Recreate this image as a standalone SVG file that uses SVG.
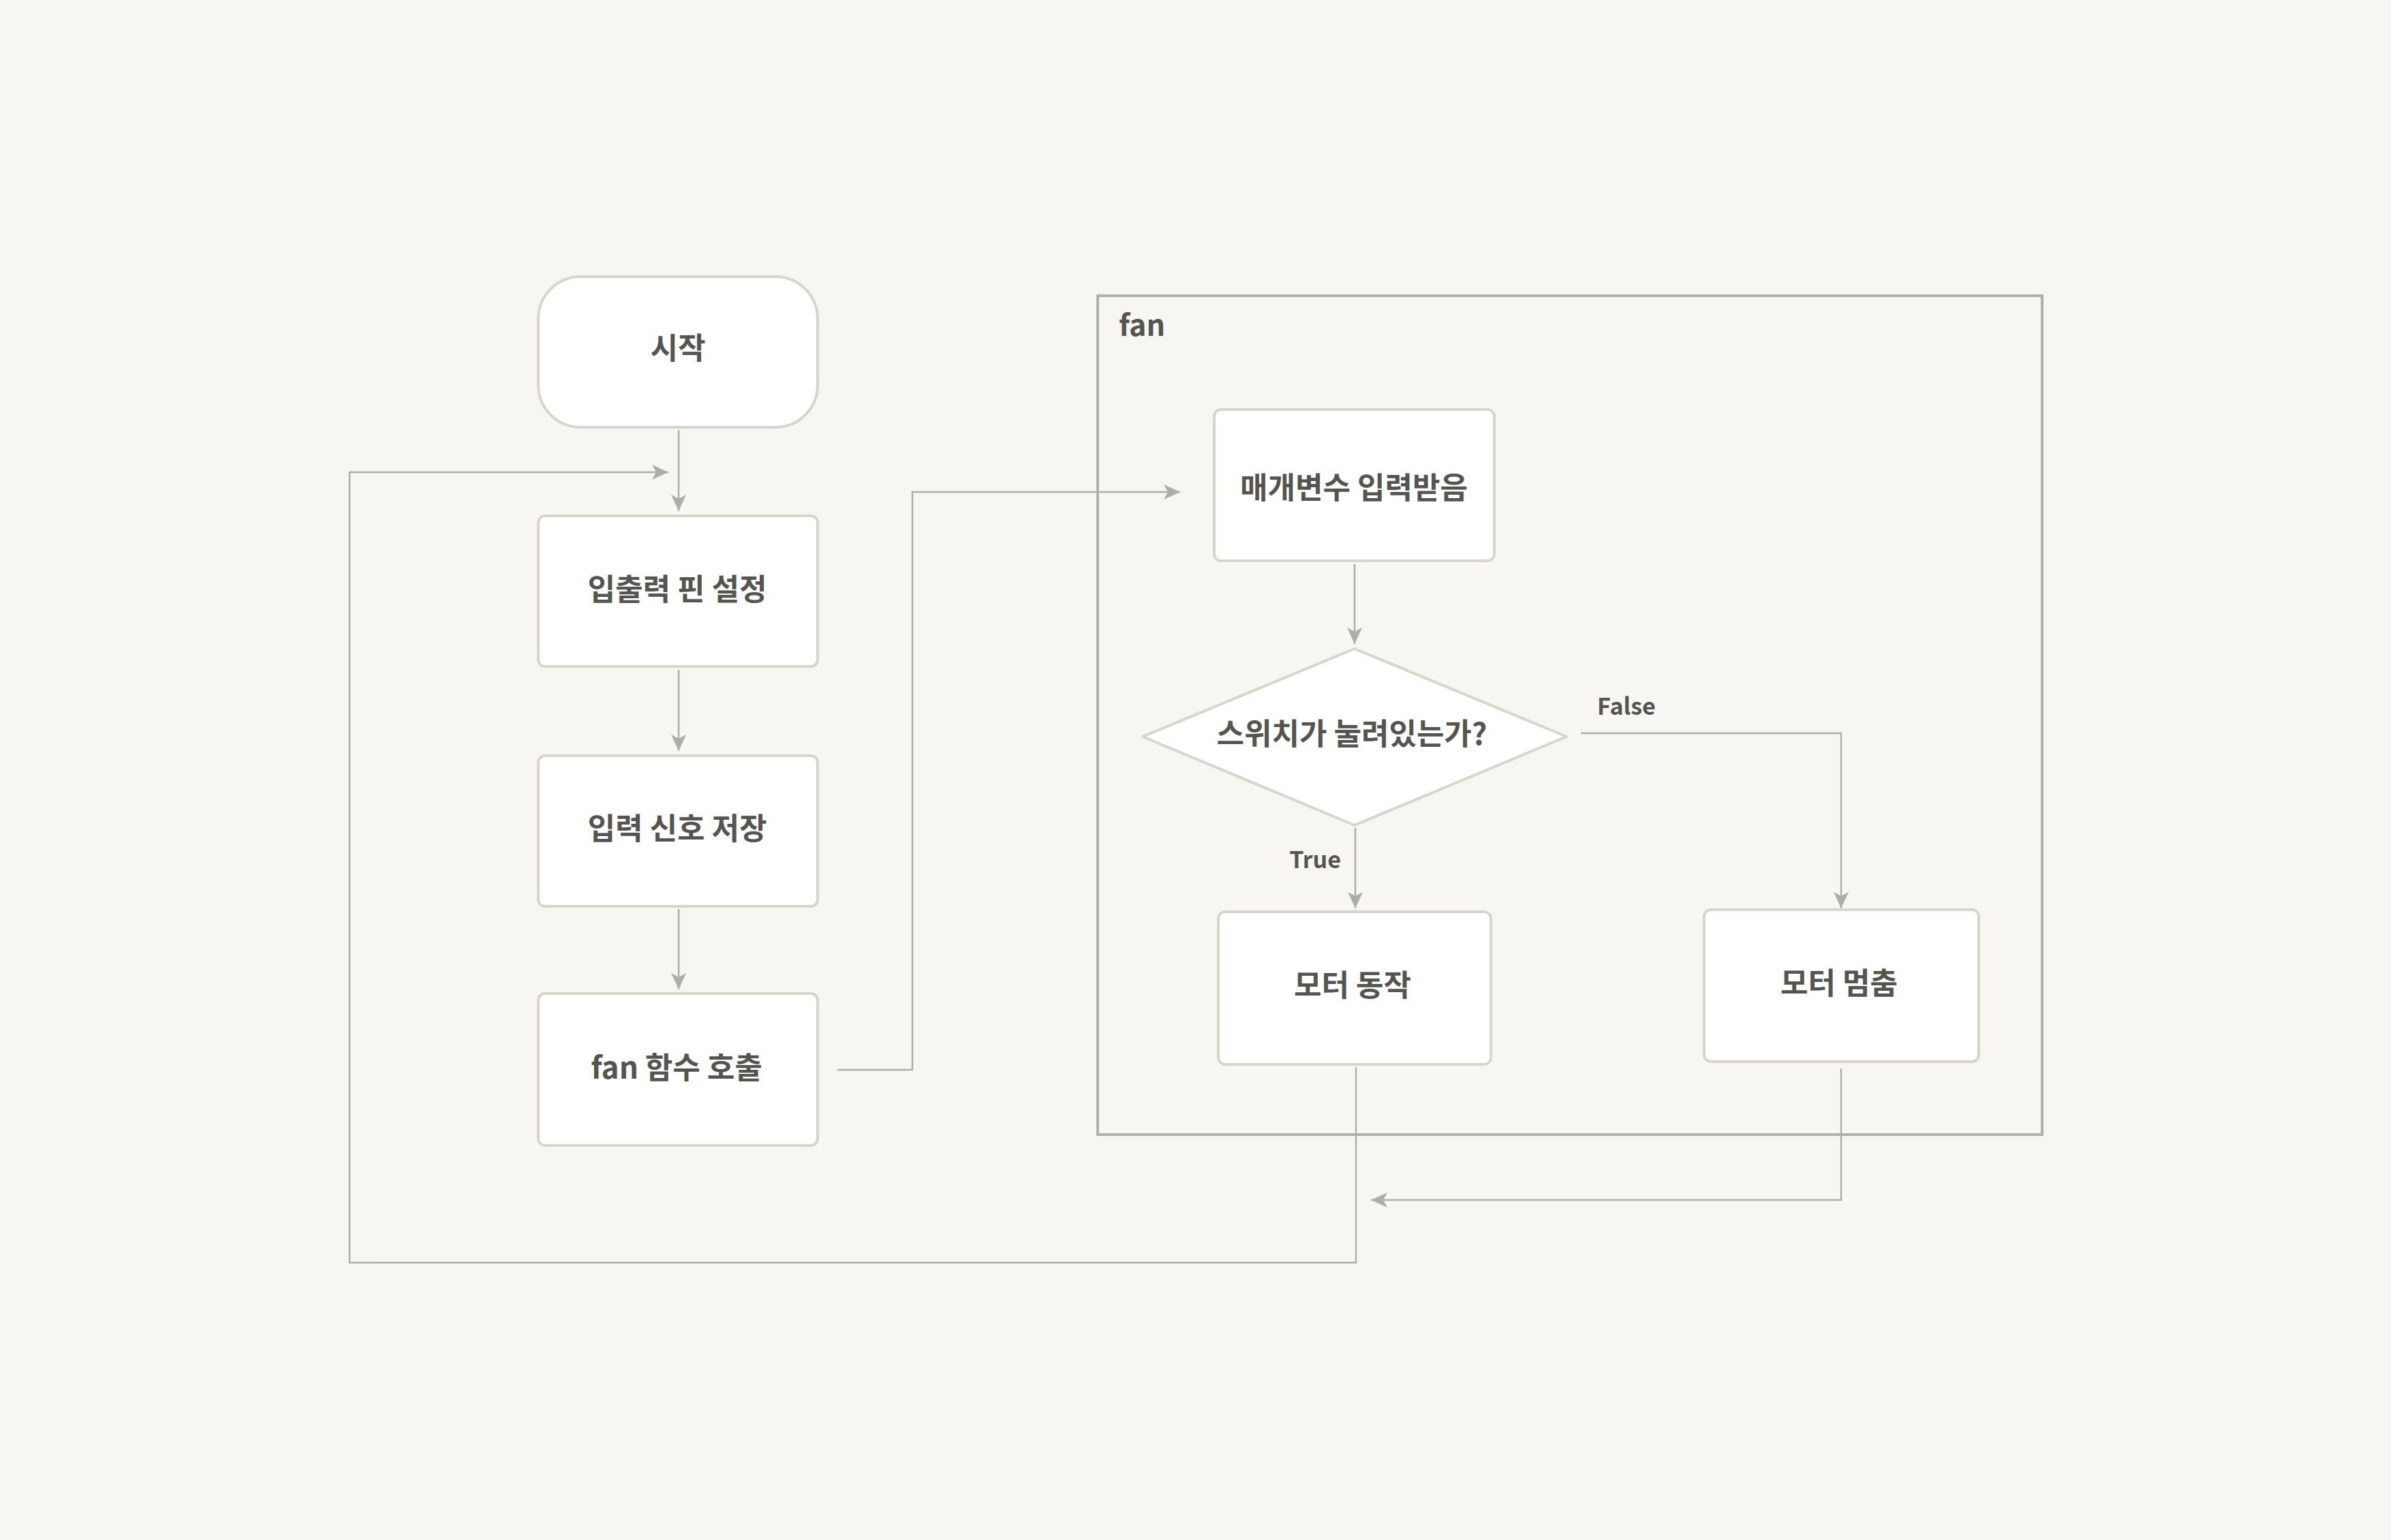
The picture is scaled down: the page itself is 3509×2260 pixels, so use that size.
<svg xmlns="http://www.w3.org/2000/svg" width="3509" height="2260" viewBox="0 0 3509 2260">
<defs>
<marker id="arr" markerUnits="userSpaceOnUse" markerWidth="28" markerHeight="24" refX="24" refY="11" orient="auto">
<path d="M0,0 L24,11 L0,22 L6,11 z" fill="#aeaea6"/>
</marker>
<style>
.node{fill:#ffffff;stroke:#d6d6cc;stroke-width:4}
.lbl{font-family:"Noto Sans CJK KR","Noto Sans",sans-serif;font-weight:bold;font-size:44px;fill:#545450;text-anchor:middle;dominant-baseline:central}
.elbl{font-family:"Noto Sans CJK KR","Noto Sans",sans-serif;font-weight:bold;font-size:34px;fill:#545450}
.edge{fill:none;stroke:#aeaea6;stroke-width:2.5}
</style>
</defs>
<rect x="0" y="0" width="3509" height="2260" fill="#f7f6f2"/>
<g id="cluster-fan">
<rect x="1611" y="434" width="1386" height="1231" fill="none" stroke="#b0b0a8" stroke-width="4"/>
<text class="elbl" x="1642" y="493" style="font-size:43px">fan</text>
</g>
<g id="connectors">
<path class="edge" d="M996 631 V750" marker-end="url(#arr)"/>
<path class="edge" d="M1990 1566 V1853 H513 V693 H981" marker-end="url(#arr)"/>
<path class="edge" d="M996 983 V1102" marker-end="url(#arr)"/>
<path class="edge" d="M996 1334 V1452" marker-end="url(#arr)"/>
<path class="edge" d="M1229 1570 H1339 V722 H1732" marker-end="url(#arr)"/>
<path class="edge" d="M1988 828 V945" marker-end="url(#arr)"/>
<path class="edge" d="M1989 1215 V1333" marker-end="url(#arr)"/>
<path class="edge" d="M2320 1076 H2702 V1333" marker-end="url(#arr)"/>
<path class="edge" d="M2702 1568 V1761 H2012" marker-end="url(#arr)"/>
<text class="elbl" x="2344" y="1049">False</text>
<text class="elbl" x="1968" y="1274" style="text-anchor:end">True</text>
</g>
<g id="start">
<rect class="node" x="790" y="406" width="410" height="221" rx="62" ry="62"/>
<text class="lbl" x="995" y="508">시작</text>
</g>
<g id="setup">
<rect class="node" x="790" y="757" width="410" height="221" rx="10"/>
<text class="lbl" x="994" y="862">입출력 핀 설정</text>
</g>
<g id="store">
<rect class="node" x="790" y="1109" width="410" height="221" rx="10"/>
<text class="lbl" x="994" y="1213">입력 신호 저장</text>
</g>
<g id="call">
<rect class="node" x="790" y="1458" width="410" height="223" rx="10"/>
<text class="lbl" x="993" y="1564">fan 함수 호출</text>
</g>
<g id="param">
<rect class="node" x="1782" y="601" width="411" height="222" rx="10"/>
<text class="lbl" x="1987" y="713">매개변수 입력받음</text>
</g>
<g id="decision">
<path class="node" stroke-linejoin="round" d="M1988 952 L2299 1081 L1988 1211 L1677 1081 Z"/>
<text class="lbl" x="1984" y="1074">스위치가 눌려있는가?</text>
</g>
<g id="run">
<rect class="node" x="1788" y="1338" width="400" height="224" rx="10"/>
<text class="lbl" x="1985" y="1443">모터 동작</text>
</g>
<g id="stop">
<rect class="node" x="2501" y="1335" width="403" height="223" rx="10"/>
<text class="lbl" x="2699" y="1440">모터 멈춤</text>
</g>
</svg>
